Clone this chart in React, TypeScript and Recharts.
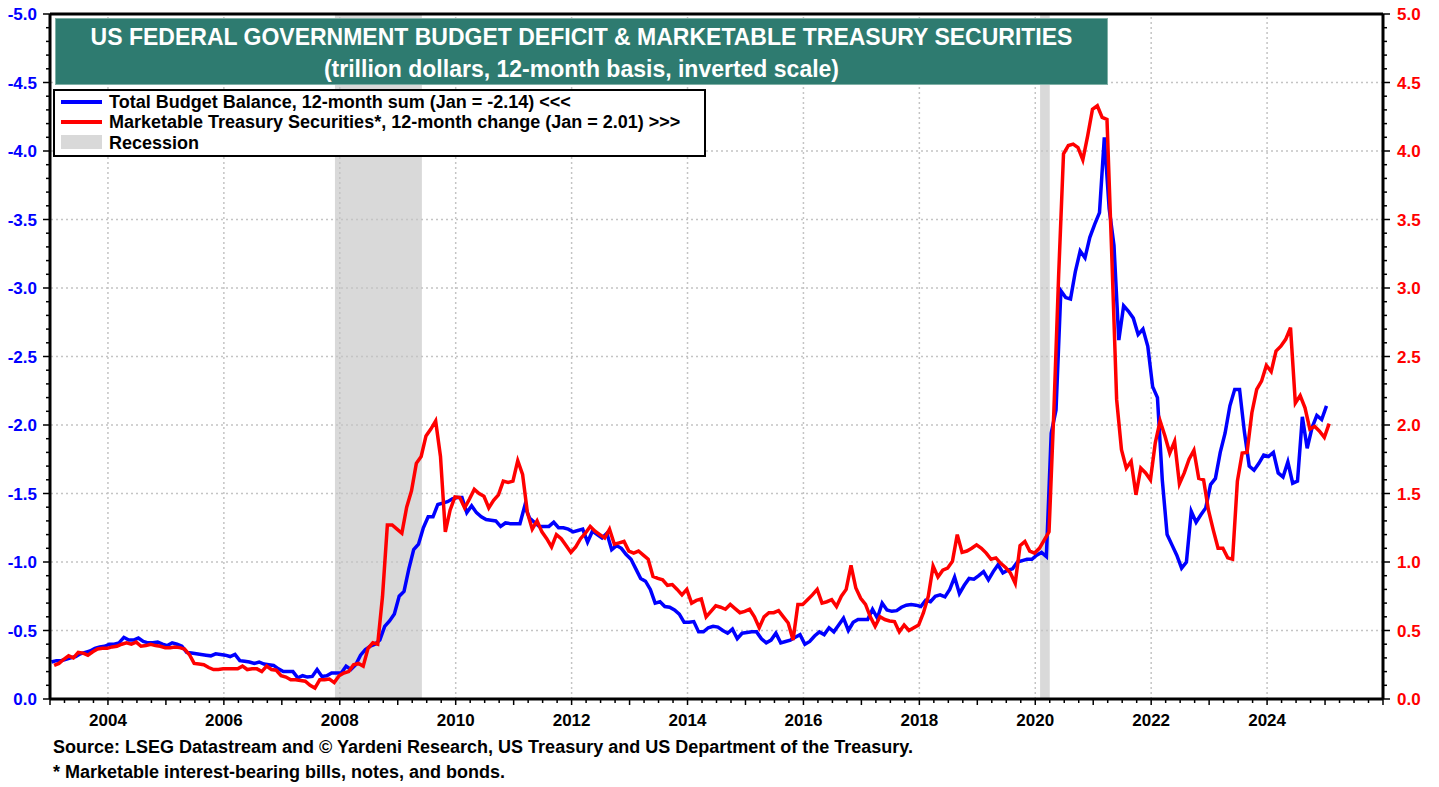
import React from 'react';
import { LineChart, Line, XAxis, YAxis, ReferenceArea, ReferenceLine } from 'recharts';

const FONT = '"Liberation Sans", Arial, Helvetica, sans-serif';
const W = 1439;
const H = 787;
const PLOT = { left: 50, right: 1383, top: 14, bottom: 699 };

// monthly values, Jan 2003 .. Jan 2025
const START_YEAR = 2003;

// Total budget balance, 12-month sum (trillion $), left axis (inverted)
const budgetBalance = [
  -0.27, -0.28, -0.28, -0.29, -0.3, -0.31, -0.33, -0.34, -0.35, -0.37, -0.38, -0.385, // 2003
  -0.4, -0.4, -0.41, -0.45, -0.43, -0.43, -0.445, -0.42, -0.41, -0.41, -0.415, -0.4, // 2004
  -0.39, -0.41, -0.4, -0.385, -0.34, -0.335, -0.33, -0.325, -0.32, -0.315, -0.33, -0.325, // 2005
  -0.32, -0.31, -0.325, -0.28, -0.275, -0.27, -0.26, -0.27, -0.255, -0.25, -0.245, -0.22, // 2006
  -0.2, -0.2, -0.2, -0.155, -0.17, -0.16, -0.165, -0.215, -0.165, -0.17, -0.19, -0.19, // 2007
  -0.19, -0.24, -0.215, -0.25, -0.32, -0.36, -0.385, -0.4, -0.43, -0.53, -0.57, -0.62, // 2008
  -0.75, -0.785, -0.95, -1.09, -1.13, -1.25, -1.33, -1.33, -1.42, -1.43, -1.44, -1.46, // 2009
  -1.47, -1.47, -1.36, -1.41, -1.36, -1.33, -1.31, -1.305, -1.3, -1.26, -1.285, -1.28, // 2010
  -1.28, -1.28, -1.41, -1.32, -1.29, -1.26, -1.26, -1.26, -1.29, -1.25, -1.25, -1.24, // 2011
  -1.22, -1.23, -1.24, -1.145, -1.225, -1.2, -1.175, -1.21, -1.09, -1.12, -1.1, -1.055, // 2012
  -1.02, -0.95, -0.88, -0.86, -0.8, -0.7, -0.71, -0.675, -0.67, -0.65, -0.62, -0.56, // 2013
  -0.56, -0.565, -0.49, -0.49, -0.52, -0.53, -0.525, -0.5, -0.48, -0.51, -0.44, -0.48, // 2014
  -0.485, -0.49, -0.49, -0.44, -0.41, -0.43, -0.48, -0.41, -0.42, -0.43, -0.45, -0.47, // 2015
  -0.4, -0.42, -0.46, -0.49, -0.47, -0.52, -0.49, -0.54, -0.59, -0.5, -0.56, -0.58, // 2016
  -0.58, -0.58, -0.655, -0.59, -0.7, -0.65, -0.64, -0.645, -0.67, -0.685, -0.69, -0.685, // 2017
  -0.675, -0.72, -0.71, -0.75, -0.76, -0.745, -0.8, -0.89, -0.77, -0.83, -0.88, -0.875, // 2018
  -0.9, -0.93, -0.87, -0.93, -0.98, -0.92, -0.94, -0.95, -1.0, -1.01, -1.02, -1.02, // 2019
  -1.05, -1.07, -1.04, -1.94, -2.11, -2.98, -2.93, -2.92, -3.12, -3.27, -3.22, -3.37, // 2020
  -3.465, -3.55, -4.1, -3.58, -3.31, -2.62, -2.87, -2.83, -2.78, -2.66, -2.7, -2.575, // 2021
  -2.28, -2.2, -1.6, -1.2, -1.125, -1.05, -0.955, -1.0, -1.37, -1.29, -1.345, -1.395, // 2022
  -1.565, -1.61, -1.8, -1.94, -2.14, -2.26, -2.26, -1.95, -1.7, -1.67, -1.72, -1.78, // 2023
  -1.77, -1.8, -1.65, -1.62, -1.73, -1.575, -1.59, -2.06, -1.83, -1.98, -2.07, -2.04, // 2024
  -2.14, // 2025
];

// Marketable Treasury securities, 12-month change (trillion $), right axis
const treasuryChange = [
  0.245, 0.26, 0.29, 0.315, 0.3, 0.34, 0.335, 0.32, 0.345, 0.365, 0.37, 0.37, // 2003
  0.38, 0.385, 0.4, 0.41, 0.4, 0.415, 0.385, 0.39, 0.4, 0.39, 0.385, 0.375, // 2004
  0.375, 0.38, 0.375, 0.365, 0.325, 0.26, 0.255, 0.25, 0.23, 0.215, 0.215, 0.22, // 2005
  0.22, 0.22, 0.22, 0.24, 0.215, 0.22, 0.22, 0.2, 0.24, 0.215, 0.21, 0.17, // 2006
  0.16, 0.14, 0.14, 0.135, 0.13, 0.1, 0.08, 0.14, 0.14, 0.145, 0.12, 0.17, // 2007
  0.19, 0.2, 0.25, 0.26, 0.24, 0.37, 0.41, 0.4, 0.75, 1.27, 1.27, 1.24, // 2008
  1.21, 1.4, 1.52, 1.72, 1.77, 1.92, 1.97, 2.03, 1.77, 1.22, 1.38, 1.475, // 2009
  1.47, 1.395, 1.46, 1.53, 1.5, 1.48, 1.395, 1.45, 1.49, 1.59, 1.58, 1.59, // 2010
  1.74, 1.64, 1.36, 1.24, 1.3, 1.22, 1.17, 1.11, 1.2, 1.17, 1.12, 1.07, // 2011
  1.11, 1.17, 1.21, 1.26, 1.225, 1.2, 1.175, 1.24, 1.13, 1.14, 1.15, 1.08, // 2012
  1.065, 1.08, 1.05, 1.02, 0.895, 0.88, 0.87, 0.83, 0.835, 0.8, 0.76, 0.8, // 2013
  0.7, 0.72, 0.73, 0.6, 0.64, 0.68, 0.67, 0.655, 0.69, 0.66, 0.63, 0.64, // 2014
  0.655, 0.6, 0.52, 0.6, 0.63, 0.63, 0.645, 0.6, 0.555, 0.43, 0.69, 0.69, // 2015
  0.725, 0.76, 0.8, 0.7, 0.71, 0.725, 0.675, 0.75, 0.8, 0.975, 0.81, 0.735, // 2016
  0.69, 0.6, 0.53, 0.6, 0.58, 0.57, 0.565, 0.49, 0.54, 0.5, 0.52, 0.54, // 2017
  0.63, 0.75, 0.97, 0.89, 0.94, 0.955, 1.005, 1.2, 1.07, 1.08, 1.1, 1.125, // 2018
  1.1, 1.065, 1.02, 1.03, 0.99, 0.96, 0.92, 0.845, 1.12, 1.15, 1.08, 1.065, // 2019
  1.1, 1.16, 1.22, 2.1, 3.1, 3.98, 4.04, 4.05, 4.025, 3.935, 4.11, 4.305, // 2020
  4.33, 4.245, 4.23, 3.23, 2.185, 1.82, 1.685, 1.735, 1.49, 1.685, 1.65, 1.6, // 2021
  1.87, 2.03, 1.92, 1.795, 1.88, 1.57, 1.65, 1.75, 1.815, 1.61, 1.6, 1.38, // 2022
  1.235, 1.1, 1.1, 1.03, 1.02, 1.59, 1.795, 1.8, 2.09, 2.26, 2.32, 2.435, // 2023
  2.39, 2.54, 2.575, 2.625, 2.71, 2.16, 2.215, 2.125, 1.97, 1.99, 1.955, 1.91, // 2024
  2.01, // 2025
];

// recessions: Dec 2007 - Jun 2009, Feb 2020 - Apr 2020
const recessions = [
  { from: 2007 + 11 / 12, to: 2009 + 5 / 12 },
  { from: 2020 + 1 / 12, to: 2020 + 3 / 12 },
];

const yearLabels = [2004, 2006, 2008, 2010, 2012, 2014, 2016, 2018, 2020, 2022, 2024];
const leftLabels = [-5, -4.5, -4, -3.5, -3, -2.5, -2, -1.5, -1, -0.5, 0];
const rightLabels = [0, 0.5, 1, 1.5, 2, 2.5, 3, 3.5, 4, 4.5, 5];

// series points (blue sits mid-month, red at month end in the source)
const budgetRows = budgetBalance.map((v, i) => ({ t: START_YEAR + (i + 0.3) / 12, v }));
const treasuryRows = treasuryChange.map((v, i) => ({ t: START_YEAR + (i + 0.85) / 12, v }));

// minor tick positions
const quarterTicks = Array.from({ length: 93 }, (_, i) => START_YEAR + i / 4);
const leftTicks = Array.from({ length: 51 }, (_, i) => Math.round((-5 + i / 10) * 10) / 10);
const rightTicks = Array.from({ length: 51 }, (_, i) => Math.round((i / 10) * 10) / 10);

const isHalf = (v: number) => Math.abs(v * 2 - Math.round(v * 2)) < 1e-6;

function BottomTick(props: any) {
  const { x, payload } = props;
  const t = payload.value;
  const labelled = yearLabels.includes(t);
  return (
    <g>
      <line x1={x} x2={x} y1={PLOT.bottom} y2={PLOT.bottom + (Number.isInteger(t) ? 6 : 4)} stroke="#000" strokeWidth={1.5} />
      {labelled && (
        <text x={x} y={PLOT.bottom + 27} textAnchor="middle" fontSize={17} fontWeight="bold" fontFamily={FONT} fill="#000">
          {t}
        </text>
      )}
    </g>
  );
}

function LeftTick(props: any) {
  const { y, payload } = props;
  const v = payload.value;
  const major = isHalf(v);
  return (
    <g>
      <line x1={PLOT.left - (major ? 7 : 4)} x2={PLOT.left} y1={y} y2={y} stroke="#000" strokeWidth={1.5} />
      {major && leftLabels.includes(v) && (
        <text x={PLOT.left - 13} y={y} dy="0.36em" textAnchor="end" fontSize={17} fontWeight="bold" fontFamily={FONT} fill="#0000FF">
          {v.toFixed(1)}
        </text>
      )}
    </g>
  );
}

function RightTick(props: any) {
  const { y, payload } = props;
  const v = payload.value;
  const major = isHalf(v);
  return (
    <g>
      <line x1={PLOT.right} x2={PLOT.right + (major ? 7 : 4)} y1={y} y2={y} stroke="#000" strokeWidth={1.5} />
      {major && rightLabels.includes(v) && (
        <text x={PLOT.right + 14} y={y} dy="0.36em" textAnchor="start" fontSize={17} fontWeight="bold" fontFamily={FONT} fill="#FF0000">
          {v.toFixed(1)}
        </text>
      )}
    </g>
  );
}

const gridStyle = { stroke: '#c4c4c4', strokeWidth: 1.5, strokeDasharray: '2 3' };

export default function App() {
  return (
    <div style={{ position: 'absolute', left: 0, top: 0, width: W, height: H, background: '#fff', fontFamily: FONT }}>
      <LineChart width={W} height={H} margin={{ top: PLOT.top, right: 0, bottom: H - PLOT.bottom - 30, left: 0 }}>
        <XAxis
          dataKey="t"
          type="number"
          domain={[START_YEAR, 2026]}
          allowDataOverflow
          ticks={quarterTicks}
          interval={0}
          tick={<BottomTick />}
          tickLine={false}
          axisLine={{ stroke: '#000', strokeWidth: 3 }}
          height={30}
        />
        <YAxis
          yAxisId="left"
          orientation="left"
          domain={[-5, 0]}
          reversed
          allowDataOverflow
          ticks={leftTicks}
          interval={0}
          tick={<LeftTick />}
          tickLine={false}
          axisLine={{ stroke: '#000', strokeWidth: 3 }}
          width={PLOT.left}
        />
        <YAxis
          yAxisId="right"
          orientation="right"
          domain={[0, 5]}
          allowDataOverflow
          ticks={rightTicks}
          interval={0}
          tick={<RightTick />}
          tickLine={false}
          axisLine={{ stroke: '#000', strokeWidth: 3 }}
          width={W - PLOT.right}
        />
        {recessions.map((r) => (
          <ReferenceArea
            key={r.from}
            yAxisId="right"
            x1={r.from}
            x2={r.to}
            fill="#d9d9d9"
            fillOpacity={1}
            stroke="none"
            zIndex={-100}
          />
        ))}
        {rightLabels.slice(1, -1).map((v) => (
          <ReferenceLine key={'h' + v} yAxisId="right" y={v} {...gridStyle} zIndex={-90} />
        ))}
        {yearLabels.map((yr) => (
          <ReferenceLine key={'v' + yr} yAxisId="right" x={yr} {...gridStyle} zIndex={-90} />
        ))}
        <Line
          data={budgetRows}
          yAxisId="left"
          dataKey="v"
          type="linear"
          stroke="#0000FF"
          strokeWidth={3.5}
          dot={false}
          isAnimationActive={false}
        />
        <Line
          data={treasuryRows}
          yAxisId="right"
          dataKey="v"
          type="linear"
          stroke="#FF0000"
          strokeWidth={3.5}
          dot={false}
          isAnimationActive={false}
        />
        <ReferenceLine yAxisId="right" y={5} stroke="#000" strokeWidth={3} zIndex={600} />
      </LineChart>

      {/* title */}
      <div
        style={{
          position: 'absolute',
          left: 55,
          top: 18,
          width: 1053,
          height: 67,
          background: '#2E7B70',
          border: '1px solid #7fb0a6',
          boxSizing: 'border-box',
          color: '#fff',
          fontWeight: 'bold',
          textAlign: 'center',
          lineHeight: '32px',
          fontSize: 23,
          paddingTop: 2,
        }}
      >
        <div>US FEDERAL GOVERNMENT BUDGET DEFICIT &amp; MARKETABLE TREASURY SECURITIES</div>
        <div>(trillion dollars, 12-month basis, inverted scale)</div>
      </div>

      {/* legend */}
      <div
        style={{
          position: 'absolute',
          left: 53,
          top: 89,
          width: 653,
          height: 68,
          background: '#fff',
          border: '2px solid #000',
          boxSizing: 'border-box',
          fontWeight: 'bold',
          fontSize: 18,
          color: '#000',
        }}
      >
        {[
          { label: 'Total Budget Balance, 12-month sum (Jan = -2.14) <<<', kind: 'line', color: '#0000FF', y: 11 },
          { label: 'Marketable Treasury Securities*, 12-month change (Jan = 2.01) >>>', kind: 'line', color: '#FF0000', y: 31 },
          { label: 'Recession', kind: 'box', color: '#d9d9d9', y: 52 },
        ].map((item) => (
          <div key={item.label} style={{ position: 'absolute', left: 0, top: item.y - 10, height: 20, width: '100%' }}>
            {item.kind === 'line' ? (
              <div style={{ position: 'absolute', left: 6, top: 8, width: 41, height: 4, background: item.color }} />
            ) : (
              <div style={{ position: 'absolute', left: 6, top: 2, width: 41, height: 14, background: item.color }} />
            )}
            <div style={{ position: 'absolute', left: 54, top: 0, lineHeight: '20px', whiteSpace: 'nowrap' }}>{item.label}</div>
          </div>
        ))}
      </div>

      {/* footnotes */}
      <div style={{ position: 'absolute', left: 53, top: 737, fontSize: 18, fontWeight: 'bold', lineHeight: '20px', whiteSpace: 'nowrap' }}>
        Source: LSEG Datastream and © Yardeni Research, US Treasury and US Department of the Treasury.
      </div>
      <div style={{ position: 'absolute', left: 53, top: 762, fontSize: 18, fontWeight: 'bold', lineHeight: '20px', whiteSpace: 'nowrap' }}>
        * Marketable interest-bearing bills, notes, and bonds.
      </div>
    </div>
  );
}
